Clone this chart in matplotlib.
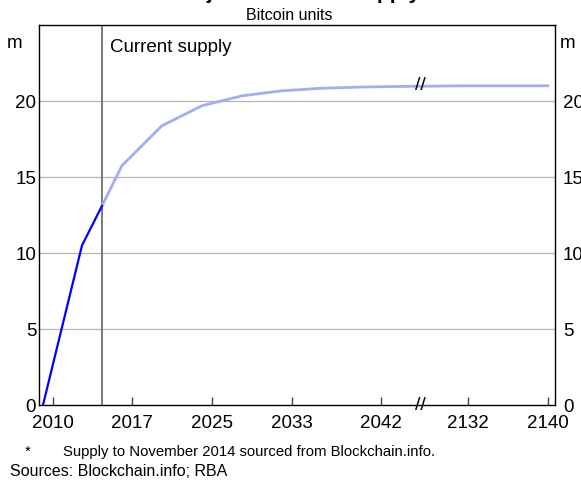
import numpy as np
import matplotlib.pyplot as plt

plt.rcParams['font.family'] = ['Liberation Sans', 'DejaVu Sans']

# bitcoin supply, millions of units
actual_year = [2009.0, 2012.9, 2014.9]
actual_supply = [0.0, 10.5, 13.1]
proj_year = [2014.9, 2016.9, 2020.9, 2024.9, 2028.9, 2032.9, 2036.9, 2040.9, 2044.9, 2132.0, 2140.0]
proj_supply = [13.1, 15.75, 18.375, 19.69, 20.34, 20.67, 20.84, 20.92, 20.96, 21.0, 21.0]

tick_years = [2010.0, 2017.9, 2025.9, 2033.9, 2042.8, 2132.0, 2140.0]
tick_labels = ['2010', '2017', '2025', '2033', '2042', '2132', '2140']
yticks = [0, 5, 10, 15, 20]

current = 2014.9
brk = 2046.7    # where the axis is broken
shift = 80.5    # years skipped by the break


def pos(years):
    years = np.asarray(years, dtype=float)
    return np.where(years > 2100, years - shift, years)


fig = plt.figure(figsize=(5.81, 4.8), dpi=100)
ax = fig.add_axes([39/581, 75/480, 516/581, 380/480])

ax.set_xlim(2008.6, 2060.2)
ax.set_ylim(0, 25)

for v in yticks[1:]:
    ax.axhline(v, color='#b4b4b4', lw=0.9, zorder=1)
ax.axvline(current, color='#6e6e6e', lw=1.3, zorder=2)

ax.plot(pos(proj_year), proj_supply, color='#a4acf2', lw=2.0, zorder=3)
ax.plot(pos(actual_year), actual_supply, color='#0000ff', lw=1.6, zorder=4)

# break marks
ax.text(brk, 0, '//', fontsize=14, ha='center', va='center', zorder=5)
ax.text(brk, proj_supply[-1], '//', fontsize=14, ha='center', va='center', zorder=5)

ax.text(current + 0.8, 23.5, 'Current supply', fontsize=13.5, va='center')

ax.set_xticks(pos(tick_years))
ax.set_xticklabels(tick_labels)
ax.tick_params(axis='x', direction='in', length=6, width=1, color='#444444',
               labelsize=13.5, pad=7)
ax.set_yticks(yticks)
ax.tick_params(axis='y', length=0, labelsize=13.5, pad=2,
               labelleft=True, labelright=True)
# right-hand labels sit a little further out, as in the original
for t in ax.yaxis.get_major_ticks():
    t.label2.set_x(1.0 + 5/516)
for s in ax.spines.values():
    s.set_linewidth(1.0)

fig.text(15/581, 1 - 44/480, 'm', fontsize=13.5, ha='center', va='center')
fig.text(568/581, 1 - 44/480, 'm', fontsize=13.5, ha='center', va='center')
fig.text(289/581, 1 - 15/480, 'Bitcoin units', fontsize=11.5, ha='center', va='center')
# title sits mostly above the image, as in the reference
fig.text(300/581, 1 + 1/480, 'Projected Bitcoin Supply*', fontsize=15,
         fontweight='bold', ha='center', va='baseline')

fig.text(28/581, 1 - 452/480, '*', fontsize=10.7, ha='center', va='center')
fig.text(63/581, 1 - 452/480, 'Supply to November 2014 sourced from Blockchain.info.',
         fontsize=10.7, va='center')
fig.text(10/581, 1 - 472/480, 'Sources: Blockchain.info; RBA', fontsize=11.5, va='center')

fig.savefig('out.png', dpi=100)
